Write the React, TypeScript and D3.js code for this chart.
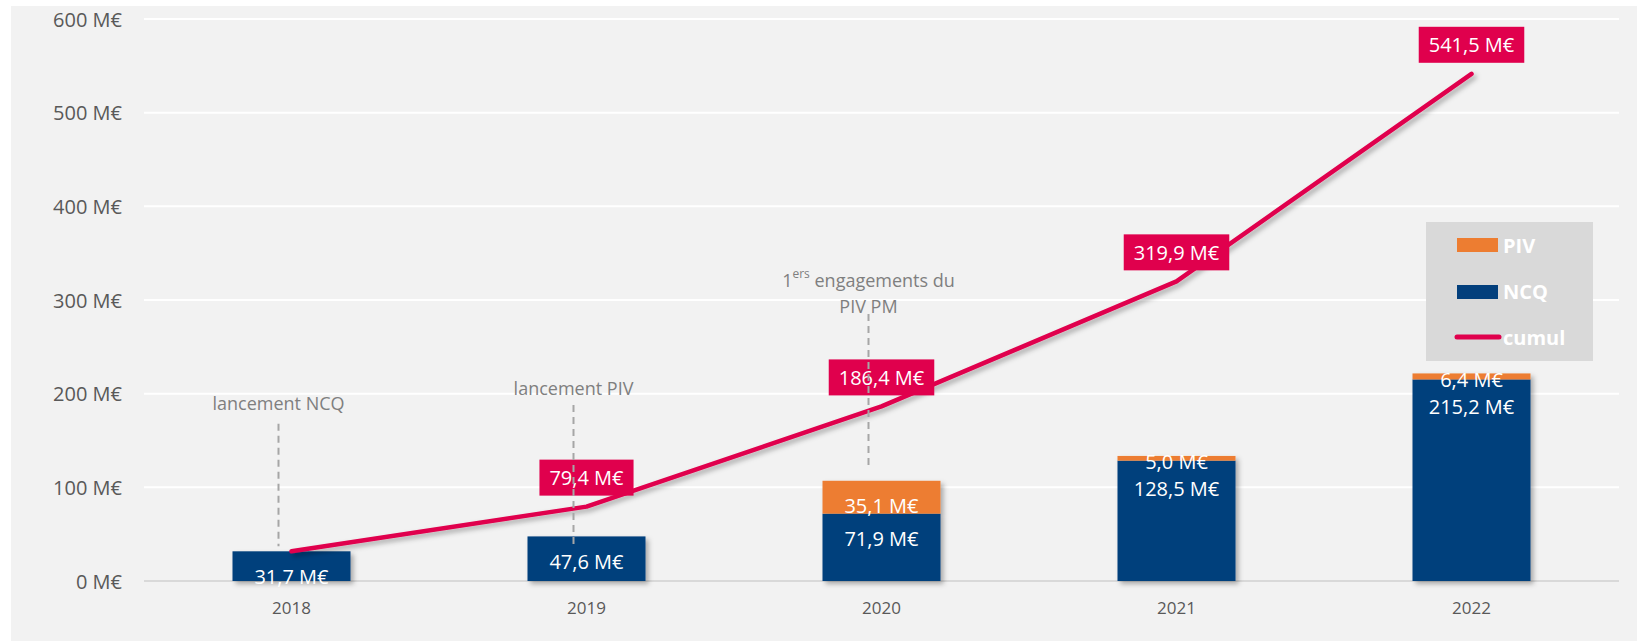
import * as d3 from "d3";

const years = ["2018", "2019", "2020", "2021", "2022"];
const ncqValues = [31.7, 47.6, 71.9, 128.5, 215.2];
const pivValues = [0, 0, 35.1, 5.0, 6.4];
const cumulValues = [31.7, 79.4, 186.4, 319.9, 541.5];
const yTickValues = [0, 100, 200, 300, 400, 500, 600];

// annotations, heights in M€
const annotations = [
  { year: "2018", lines: ["lancement NCQ"], textAt: 190, dashFrom: 168, dashTo: 37 },
  { year: "2019", lines: ["lancement PIV"], textAt: 206, dashFrom: 188, dashTo: 35 },
  { year: "2020", lines: ["1|ers| engagements du", "PIV PM"], textAt: 321, dashFrom: 285, dashTo: 121 },
];

const WIDTH = 1637;
const HEIGHT = 641;
const FONT = "'Open Sans', 'DejaVu Sans', sans-serif";
const NAVY = "#023f7c";
const ORANGE = "#ed7d31";
const RED = "#e0004d";

const fmt = (v: number) => v.toFixed(1).replace(".", ",") + " M€";

let ctx: CanvasRenderingContext2D | null = null;
function measure(text: string, size: number) {
  if (!ctx) ctx = document.createElement("canvas").getContext("2d");
  if (!ctx) return text.length * size * 0.55;
  ctx.font = `${size}px 'Open Sans'`;
  return ctx.measureText(text).width;
}

export default function App() {
  const margin = { top: 19, right: 18, bottom: 60, left: 144 };
  const x = d3
    .scaleBand()
    .domain(years)
    .range([margin.left, WIDTH - margin.right])
    .paddingInner(0.6)
    .paddingOuter(0.3);
  const y = d3
    .scaleLinear()
    .domain([0, 600])
    .range([HEIGHT - margin.bottom, margin.top]);

  const cx = (yr: string) => (x(yr) ?? 0) + x.bandwidth() / 2;

  const line = d3
    .line<number>()
    .x((_, i) => cx(years[i]))
    .y((d) => y(d));

  return (
    <svg
      width={WIDTH}
      height={HEIGHT}
      style={{ position: "absolute", left: 0, top: 0 }}
      fontFamily={FONT}
    >
      <defs>
        <filter id="shadow" filterUnits="userSpaceOnUse" x={0} y={0} width={WIDTH} height={HEIGHT}>
          <feDropShadow dx={3} dy={3} stdDeviation={2.5} floodColor="#000" floodOpacity={0.3} />
        </filter>
      </defs>
      <rect x={0} y={0} width={WIDTH} height={HEIGHT} fill="#fff" />
      <rect x={11} y={6} width={WIDTH - 11} height={HEIGHT - 6} fill="#f2f2f2" />

      {/* grid */}
      {yTickValues.map((t) => (
        <g key={t}>
          <line
            x1={margin.left}
            x2={WIDTH - margin.right}
            y1={y(t)}
            y2={y(t)}
            stroke={t === 0 ? "#d9d9d9" : "#ffffff"}
            strokeWidth={2}
          />
          <text
            x={122}
            y={y(t)}
            textAnchor="end"
            dominantBaseline="central"
            fontSize={20}
            fill="#595959"
          >
            {t} M€
          </text>
        </g>
      ))}
      {years.map((yr) => (
        <text
          key={yr}
          x={cx(yr)}
          y={y(0) + 26}
          textAnchor="middle"
          dominantBaseline="central"
          fontSize={17}
          fill="#595959"
        >
          {yr}
        </text>
      ))}

      {/* bars */}
      <g filter="url(#shadow)">
        {years.map((yr, i) => (
          <g key={yr}>
            <rect
              x={x(yr)}
              y={y(ncqValues[i])}
              width={x.bandwidth()}
              height={y(0) - y(ncqValues[i])}
              fill={NAVY}
            />
            {pivValues[i] > 0 && (
              <rect
                x={x(yr)}
                y={y(ncqValues[i] + pivValues[i])}
                width={x.bandwidth()}
                height={y(ncqValues[i]) - y(ncqValues[i] + pivValues[i])}
                fill={ORANGE}
              />
            )}
          </g>
        ))}
      </g>
      {years.map((yr, i) => {
        const pivTop = y(ncqValues[i] + pivValues[i]);
        const pivBottom = y(ncqValues[i]);
        const pivY =
          pivValues[i] > 0
            ? pivBottom - pivTop > 30
              ? pivTop + 25
              : (pivTop + pivBottom) / 2 + 3
            : null;
        const ncqY = Math.max(y(ncqValues[i]) + 25, pivY !== null ? pivY + 27 : 0);
        return (
          <g key={yr} fontSize={20} fill="#fff" textAnchor="middle">
            {pivY !== null && (
              <text x={cx(yr)} y={pivY} dominantBaseline="central">
                {fmt(pivValues[i])}
              </text>
            )}
            <text x={cx(yr)} y={ncqY} dominantBaseline="central">
              {fmt(ncqValues[i])}
            </text>
          </g>
        );
      })}

      {/* cumul line */}
      <path
        d={line(cumulValues) ?? ""}
        fill="none"
        stroke={RED}
        strokeWidth={4.5}
        strokeLinecap="round"
        strokeLinejoin="round"
        filter="url(#shadow)"
      />
      {years.map((yr, i) => {
        if (i === 0) return null;
        const label = fmt(cumulValues[i]);
        const w = measure(label, 20) + 20;
        const cy = y(cumulValues[i]) - 29;
        return (
          <g key={yr}>
            <rect x={cx(yr) - w / 2} y={cy - 18} width={w} height={36} fill={RED} />
            <text
              x={cx(yr)}
              y={cy}
              textAnchor="middle"
              dominantBaseline="central"
              fontSize={20}
              fill="#fff"
            >
              {label}
            </text>
          </g>
        );
      })}

      {/* annotations */}
      {annotations.map((a) => {
        const ax = cx(a.year) - 13;
        return (
          <g key={a.year}>
            <line
              x1={ax}
              x2={ax}
              y1={y(a.dashFrom)}
              y2={y(a.dashTo)}
              stroke="#a6a6a6"
              strokeWidth={2}
              strokeDasharray="7 5"
            />
            {a.lines.map((ln, j) => {
              const parts = ln.split("|");
              return (
                <text
                  key={j}
                  x={ax}
                  y={y(a.textAt) + j * 26}
                  textAnchor="middle"
                  dominantBaseline="central"
                  fontSize={18}
                  fill="#7f7f7f"
                >
                  {parts.length > 1 ? (
                    <>
                      {parts[0]}
                      <tspan fontSize={12} dy={-7}>
                        {parts[1]}
                      </tspan>
                      <tspan dy={7}>{parts[2]}</tspan>
                    </>
                  ) : (
                    ln
                  )}
                </text>
              );
            })}
          </g>
        );
      })}

      {/* legend */}
      <g>
        <rect x={1426} y={222} width={167} height={139} fill="#d9d9d9" />
        <rect x={1457} y={238} width={41} height={14} fill={ORANGE} />
        <rect x={1457} y={285} width={41} height={14} fill={NAVY} />
        <line x1={1457} x2={1499} y1={337} y2={337} stroke={RED} strokeWidth={5} strokeLinecap="round" />
        {["PIV", "NCQ", "cumul"].map((t, i) => (
          <text
            key={t}
            x={1503}
            y={245.5 + i * 46}
            dominantBaseline="central"
            fontSize={20}
            fontWeight="bold"
            fill="#fff"
          >
            {t}
          </text>
        ))}
      </g>
    </svg>
  );
}
